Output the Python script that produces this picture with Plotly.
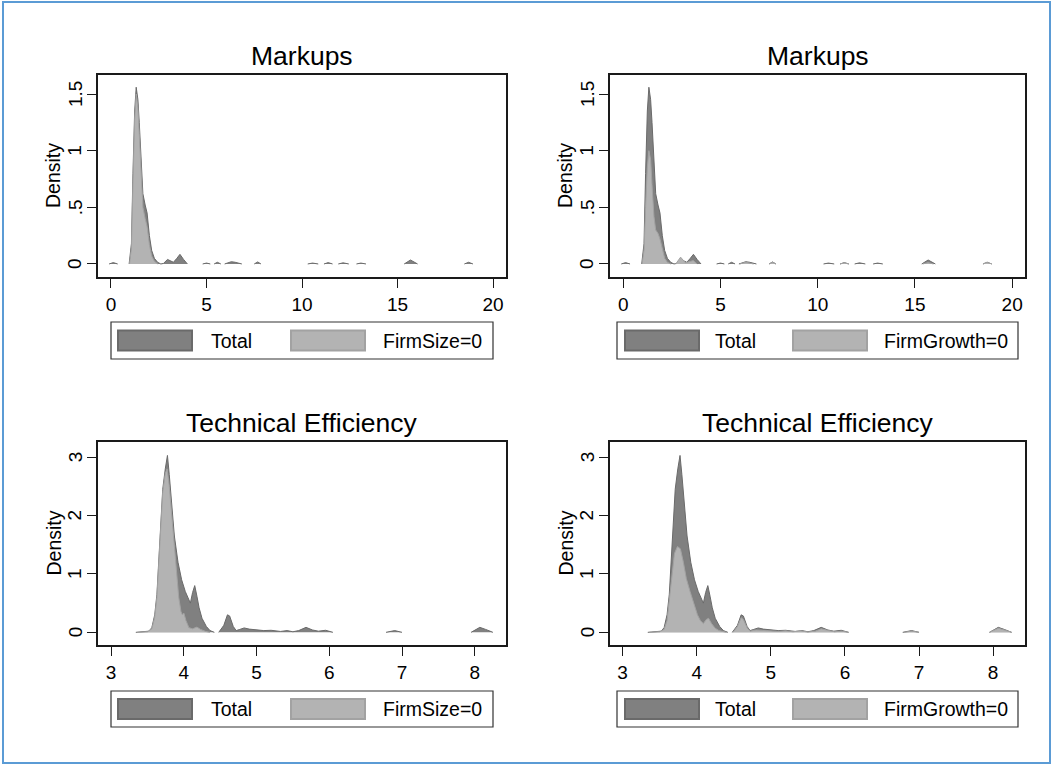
import plotly.graph_objects as go

W, H = 1053, 774

# ---------------- data ----------------
# Markups: Total density (None separates disjoint pieces)
mk_total_x = [-0.1, 0.12, 0.35, None,
              0.95, 1.07, 1.15, 1.24, 1.32, 1.41, 1.48, 1.58, 1.67, 1.79, 1.89, 2.01, 2.13, 2.27, 2.44, 2.61,
              2.75, 2.96, 3.12, 3.27, 3.45, 3.61, 3.8, 4.0, None,
              4.8, 5.0, 5.2, None, 5.4, 5.57, 5.75, None, 5.95, 6.3, 6.5, 6.85, None,
              7.5, 7.68, 7.85, None, 10.3, 10.55, 10.85, None, 11.15, 11.37, 11.6, None,
              11.9, 12.15, 12.45, None, 12.85, 13.08, 13.35, None, 15.35, 15.68, 16.05, None,
              18.5, 18.72, 18.95]
mk_total_y = [0, 0.012, 0, None,
              0, 0.18, 0.8, 1.35, 1.56, 1.45, 1.25, 0.85, 0.62, 0.52, 0.45, 0.25, 0.12, 0.05, 0.015, 0.0,
              0.005, 0.04, 0.03, 0.015, 0.05, 0.085, 0.04, 0, None,
              0, 0.008, 0, None, 0, 0.015, 0, None, 0, 0.02, 0.015, 0, None,
              0, 0.018, 0, None, 0, 0.008, 0, None, 0, 0.012, 0, None,
              0, 0.01, 0, None, 0, 0.008, 0, None, 0, 0.035, 0, None,
              0, 0.015, 0]

# Markups: FirmSize=0
mk_size_x = [0.97, 1.07, 1.15, 1.24, 1.32, 1.41, 1.48, 1.58, 1.67, 1.79, 1.89, 2.01, 2.13, 2.27, 2.45]
mk_size_y = [0, 0.14, 0.72, 1.28, 1.5, 1.38, 1.15, 0.75, 0.5, 0.4, 0.33, 0.17, 0.07, 0.025, 0]

# Markups: FirmGrowth=0
mk_growth_x = [0.97, 1.07, 1.15, 1.24, 1.32, 1.41, 1.48, 1.58, 1.67, 1.79, 1.89, 2.01, 2.13, 2.27, 2.45, None,
               2.7, 2.95, 3.2, 3.45, 3.6, 3.8, None, 6.0, 6.3, 6.7, None, 7.5, 7.68, 7.85, None,
               11.15, 11.37, 11.6, None, 15.4, 15.68, 15.95, None, 18.5, 18.7, 18.95]
mk_growth_y = [0, 0.12, 0.5, 0.85, 1.0, 0.92, 0.7, 0.42, 0.3, 0.27, 0.22, 0.12, 0.05, 0.015, 0, None,
               0, 0.06, 0.01, 0.02, 0.03, 0, None, 0, 0.015, 0, None, 0, 0.015, 0, None,
               0, 0.01, 0, None, 0, 0.012, 0, None, 0, 0.015, 0]

# Technical efficiency: Total
te_total_x = [3.34, 3.45, 3.52, 3.56, 3.6, 3.63, 3.67, 3.71, 3.745, 3.775, 3.8, 3.83, 3.87, 3.92, 3.97, 4.02,
              4.06, 4.09, 4.12, 4.15, 4.18, 4.21, 4.25, 4.31, 4.36, 4.42, None,
              4.48, 4.55, 4.6, 4.63, 4.68, 4.72, 4.77, 4.83, 4.9, 5.0, 5.1, 5.2, 5.27, 5.33, 5.42, 5.5, 5.58,
              5.68, 5.77, 5.85, 5.95, 6.05, None, 6.78, 6.9, 7.0, None, 7.95, 8.07, 8.15, 8.25]
te_total_y = [0, 0.005, 0.02, 0.08, 0.3, 0.65, 1.55, 2.45, 2.8, 3.03, 2.7, 2.25, 1.65, 1.2, 0.9, 0.7,
              0.57, 0.5, 0.68, 0.8, 0.62, 0.42, 0.24, 0.1, 0.03, 0, None,
              0, 0.12, 0.3, 0.28, 0.1, 0.03, 0.05, 0.075, 0.055, 0.045, 0.03, 0.035, 0.02, 0.015, 0.03, 0.01, 0.03,
              0.085, 0.04, 0.02, 0.035, 0, None, 0, 0.03, 0, None, 0, 0.085, 0.05, 0]

# Technical efficiency: FirmSize=0
te_size_x = [3.36, 3.5, 3.56, 3.6, 3.63, 3.67, 3.71, 3.745, 3.77, 3.8, 3.83, 3.86, 3.9, 3.93, 3.96, 3.98,
             4.0, 4.03, 4.07, 4.12, 4.18, 4.23, 4.3, 4.36]
te_size_y = [0, 0.01, 0.06, 0.26, 0.6, 1.5, 2.4, 2.72, 2.8, 2.5, 2.05, 1.5, 0.95, 0.6, 0.36, 0.3,
             0.33, 0.2, 0.08, 0.06, 0.09, 0.05, 0.015, 0]

# Technical efficiency: FirmGrowth=0
te_growth_x = [3.36, 3.5, 3.56, 3.6, 3.63, 3.66, 3.7, 3.74, 3.78, 3.82, 3.86, 3.91, 3.96, 4.01, 4.05, 4.09,
               4.13, 4.16, 4.2, 4.25, 4.3, 4.36, 4.4, None,
               4.49, 4.55, 4.6, 4.63, 4.68, 4.72, 4.8, 4.9, 5.0, 5.1, 5.2, 5.3, 5.4, 5.5, 5.6, 5.68, 5.78,
               5.86, 5.95, 6.05, None, 6.8, 6.9, 7.0, None, 7.95, 8.07, 8.15, 8.25]
te_growth_y = [0, 0.01, 0.05, 0.2, 0.55, 0.95, 1.35, 1.47, 1.43, 1.2, 0.92, 0.7, 0.5, 0.3, 0.2, 0.15,
               0.22, 0.24, 0.15, 0.07, 0.03, 0.01, 0, None,
               0, 0.1, 0.25, 0.22, 0.08, 0.02, 0.04, 0.03, 0.02, 0.015, 0.025, 0.01, 0.025, 0.005, 0.02, 0.06, 0.03,
               0.01, 0.02, 0, None, 0, 0.02, 0, None, 0, 0.07, 0.04, 0]

titles = ["Markups", "Markups", "Technical Efficiency", "Technical Efficiency"]
group_labels = ["FirmSize=0", "FirmGrowth=0", "FirmSize=0", "FirmGrowth=0"]
total_label = "Total"
y_axis_label = "Density"

mk_xticks = [0, 5, 10, 15, 20]
mk_yticks = [0, 0.5, 1, 1.5]
mk_yticklabels = ["0", ".5", "1", "1.5"]
te_xticks = [3, 4, 5, 6, 7, 8]
te_yticks = [0, 1, 2, 3]
te_yticklabels = ["0", "1", "2", "3"]

# ---------------- style ----------------
FONT = "Liberation Sans, Arial, Helvetica, sans-serif"
DARK_FILL, DARK_LINE = "#808080", "#6a6a6a"
LIGHT_FILL, LIGHT_LINE = "#b3b3b3", "#a2a2a2"
FRAME = "#1a1a1a"
BLUE = "#5b9bd5"

# panel frames in pixels: (left, right, top, bottom)
cols = [(98, 506), (610, 1025)]
rows = [(75, 277), (442, 645)]
legend_rows = [(322, 359), (691, 727)]


def px(x):
    return x / W


def py(y):
    return 1 - y / H


panels = [
    dict(r=0, c=0, tx=mk_total_x, ty=mk_total_y, gx=mk_size_x, gy=mk_size_y,
         xr=[-0.68, 20.68], yr=[-0.115, 1.668], xt=mk_xticks, yt=mk_yticks, ytl=mk_yticklabels),
    dict(r=0, c=1, tx=mk_total_x, ty=mk_total_y, gx=mk_growth_x, gy=mk_growth_y,
         xr=[-0.68, 20.66], yr=[-0.115, 1.668], xt=mk_xticks, yt=mk_yticks, ytl=mk_yticklabels),
    dict(r=1, c=0, tx=te_total_x, ty=te_total_y, gx=te_size_x, gy=te_size_y,
         xr=[2.82, 8.43], yr=[-0.217, 3.26], xt=te_xticks, yt=te_yticks, ytl=te_yticklabels),
    dict(r=1, c=1, tx=te_total_x, ty=te_total_y, gx=te_growth_x, gy=te_growth_y,
         xr=[2.83, 8.43], yr=[-0.217, 3.26], xt=te_xticks, yt=te_yticks, ytl=te_yticklabels),
]

fig = go.Figure()
shapes = []
annotations = []

for i, p in enumerate(panels):
    n = i + 1
    xa = "x" if n == 1 else f"x{n}"
    ya = "y" if n == 1 else f"y{n}"
    L, R = cols[p["c"]]
    T, B = rows[p["r"]]

    fig.add_trace(go.Scatter(x=p["tx"], y=p["ty"], mode="lines", fill="tozeroy",
                             fillcolor=DARK_FILL, line=dict(color=DARK_LINE, width=1),
                             connectgaps=False, xaxis=xa, yaxis=ya, showlegend=False,
                             name=total_label, hoverinfo="skip"))
    fig.add_trace(go.Scatter(x=p["gx"], y=p["gy"], mode="lines", fill="tozeroy",
                             fillcolor=LIGHT_FILL, line=dict(color=LIGHT_LINE, width=1),
                             connectgaps=False, xaxis=xa, yaxis=ya, showlegend=False,
                             name=group_labels[i], hoverinfo="skip"))

    axis_common = dict(showgrid=False, zeroline=False, showline=True, mirror=True,
                       linecolor=FRAME, linewidth=1.5, ticks="outside", ticklen=9,
                       tickwidth=1.3, tickcolor=FRAME,
                       tickfont=dict(family=FONT, size=19, color="#000000"))
    fig.update_layout(**{
        ("xaxis" if n == 1 else f"xaxis{n}"): dict(
            domain=[px(L), px(R)], range=p["xr"], anchor=ya, tickvals=p["xt"],
            ticktext=[str(v) for v in p["xt"]], **axis_common),
        ("yaxis" if n == 1 else f"yaxis{n}"): dict(
            domain=[py(B), py(T)], range=p["yr"], anchor=xa, tickvals=p["yt"],
            showticklabels=False, **axis_common),
    })

    # rotated y tick labels placed on the y axis scale
    for v, lab in zip(p["yt"], p["ytl"]):
        annotations.append(dict(text=lab, x=px(L - 23), y=v, xref="paper", yref=ya,
                                xanchor="center", yanchor="middle", showarrow=False, textangle=-90,
                                font=dict(family=FONT, size=19, color="#000000")))

    # title
    annotations.append(dict(text=titles[i], x=px((L + R) / 2), y=py(T - 19), xref="paper", yref="paper",
                            xanchor="center", yanchor="middle", showarrow=False,
                            font=dict(family=FONT, size=26.5, color="#000000")))
    # y axis label
    annotations.append(dict(text=y_axis_label, x=px(L - 45), y=py((T + B) / 2), xref="paper", yref="paper",
                            xanchor="center", yanchor="middle", showarrow=False, textangle=-90,
                            font=dict(family=FONT, size=19.5, color="#000000")))

    # legend box drawn by hand
    lt, lb = legend_rows[p["r"]]
    if p["c"] == 0:
        box = (111, 493)
        sw1, tx1, sw2, tx2 = 118, 209, 291, 381
    else:
        box = (617, 1018)
        sw1, tx1, sw2, tx2 = 625, 713, 793, 882
    shapes.append(dict(type="rect", xref="paper", yref="paper", x0=px(box[0]), x1=px(box[1]),
                       y0=py(lb), y1=py(lt), line=dict(color="#333333", width=1.2), fillcolor="white"))
    cy = (lt + lb) / 2
    shapes.append(dict(type="rect", xref="paper", yref="paper", x0=px(sw1), x1=px(sw1 + 74),
                       y0=py(cy + 10), y1=py(cy - 10), line=dict(color=DARK_LINE, width=2),
                       fillcolor=DARK_FILL))
    shapes.append(dict(type="rect", xref="paper", yref="paper", x0=px(sw2), x1=px(sw2 + 74),
                       y0=py(cy + 10), y1=py(cy - 10), line=dict(color=LIGHT_LINE, width=2),
                       fillcolor=LIGHT_FILL))
    annotations.append(dict(text=total_label, x=px(tx1), y=py(cy), xref="paper", yref="paper",
                            xanchor="left", yanchor="middle", showarrow=False,
                            font=dict(family=FONT, size=19.5, color="#000000")))
    annotations.append(dict(text=group_labels[i], x=px(tx2), y=py(cy), xref="paper", yref="paper",
                            xanchor="left", yanchor="middle", showarrow=False,
                            font=dict(family=FONT, size=19.5, color="#000000")))

# outer blue frame
shapes.append(dict(type="rect", xref="paper", yref="paper", x0=px(3), x1=px(1050), y0=py(763), y1=py(2),
                   line=dict(color=BLUE, width=2), fillcolor="rgba(0,0,0,0)", layer="below"))

fig.update_layout(width=W, height=H, margin=dict(l=0, r=0, t=0, b=0),
                  paper_bgcolor="white", plot_bgcolor="white",
                  shapes=shapes, annotations=annotations, showlegend=False)

fig.write_html("out.html", config={"displayModeBar": False},
               post_script="document.body.style.margin='0px';document.body.style.overflow='hidden';")
